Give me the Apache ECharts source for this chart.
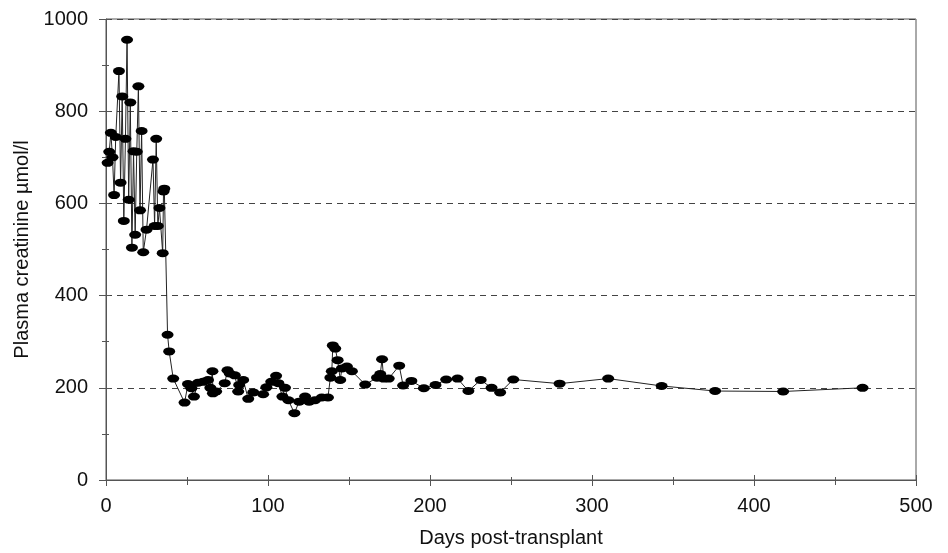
<!DOCTYPE html>
<html>
<head>
<meta charset="utf-8">
<script src="https://cdn.jsdelivr.net/npm/echarts@6/dist/echarts.min.js"></script>
<style>
	html, body { margin: 0; padding: 0; background: #fff; }
	#chart { width: 948px; height: 553px; }
</style>
</head>
<body>
<div id="chart"></div>
<script>
// days after transplant and plasma creatinine (µmol/l)
var days = [
	1, 2, 3, 4, 5, 6, 8, 9, 10, 11, 12, 13, 14, 15, 16, 17, 18, 19, 20, 21, 22, 23, 25,
	29, 30, 31, 32, 33, 35, 35.5, 36, 38, 39, 41.5,
	48.5, 50.6, 52.7, 54.3, 56.8, 59.9, 63, 64.4, 65.7, 66, 68, 73.3, 75, 76.4, 79.5,
	81.6, 82.2, 84.7, 87.8, 90.9, 97, 99, 102, 105, 106.4, 108.9, 110.5, 112.6, 116.3,
	119.2, 122.9, 125.4, 129, 133.2, 137, 138.5, 139.4, 140, 141.5, 143, 144.6, 145.6,
	148.7, 151.8, 160, 167.3, 169.3, 170.4, 171.4, 174.5, 181, 183.4, 188.5, 196.2,
	203.4, 210, 217, 223.7, 231.3, 238, 243.3, 251.4, 280, 310, 343, 376, 418, 467
];
var creatinine = [
	688, 712, 753, 700, 618, 744, 887, 645, 832, 562, 740, 955, 608, 819, 504, 713, 532, 712, 854, 585, 757, 494, 543,
	695, 551, 740, 551, 590, 492, 626, 632, 315, 279, 220,
	168, 208, 199, 181, 211, 213, 217, 200, 236, 188, 192, 210, 238, 231, 227,
	192, 206, 217, 176, 190, 186, 201, 213, 226, 210, 181, 200, 173, 145,
	170, 181, 170, 173, 179, 179, 222, 236, 292, 285, 260, 217, 242,
	246, 236, 207, 222, 230, 262, 220, 220, 248, 205, 215, 199,
	206, 218, 220, 193, 217, 200, 190, 218, 209, 220, 204, 193, 192, 200
];
var xTicks = [0, 100, 200, 300, 400, 500];
var yTicks = [0, 200, 400, 600, 800, 1000];

var points = days.map(function (d, i) { return [d, creatinine[i]]; });

var myChart = echarts.init(document.getElementById('chart'));
var axisColor = '#555';
var fontFamily = '"Liberation Sans", Arial, sans-serif';

var option = {
	animation: false,
	grid: {
		left: 106,
		right: 32,
		top: 19,
		bottom: 71,
		show: true,
		borderColor: axisColor,
		borderWidth: 1
	},
	xAxis: [
		{
			type: 'value',
			min: xTicks[0],
			max: xTicks[xTicks.length - 1],
			interval: 100,
			name: 'Days post-transplant',
			nameLocation: 'middle',
			nameGap: 48,
			nameTextStyle: { fontSize: 20, color: '#111', fontFamily: fontFamily },
			axisLine: { lineStyle: { color: axisColor, width: 1 } },
			axisTick: { show: true, length: 6, lineStyle: { color: axisColor } },
			minorTick: { show: true, splitNumber: 2, length: 5, lineStyle: { color: axisColor } },
			axisLabel: { margin: 16, fontSize: 20, color: '#111', fontFamily: fontFamily },
			splitLine: { show: false }
		},
		{
			type: 'value',
			position: 'bottom',
			min: xTicks[0],
			max: xTicks[xTicks.length - 1],
			interval: 100,
			axisLine: { show: false },
			axisTick: { show: true, inside: true, length: 5, lineStyle: { color: axisColor } },
			minorTick: { show: true, splitNumber: 2, length: 3, lineStyle: { color: axisColor } },
			axisLabel: { show: false },
			splitLine: { show: false }
		}
	],
	yAxis: [
		{
			type: 'value',
			min: yTicks[0],
			max: yTicks[yTicks.length - 1],
			interval: 200,
			name: 'Plasma creatinine µmol/l',
			nameLocation: 'middle',
			nameGap: 64,
			nameTextStyle: { fontSize: 20, color: '#111', fontFamily: fontFamily },
			axisLine: { show: true, lineStyle: { color: axisColor, width: 1 } },
			axisTick: { show: true, length: 7, lineStyle: { color: axisColor } },
			minorTick: { show: true, splitNumber: 2, length: 4, lineStyle: { color: axisColor } },
			axisLabel: {
				margin: 18,
				fontSize: 20,
				color: '#111',
				fontFamily: fontFamily,
				formatter: function (v) { return String(v); }
			},
			splitLine: {
				show: true,
				lineStyle: { color: '#444', type: [6, 5], width: 1 }
			}
		},
		{
			type: 'value',
			position: 'left',
			min: yTicks[0],
			max: yTicks[yTicks.length - 1],
			interval: 200,
			axisLine: { show: false },
			axisTick: { show: true, inside: true, length: 4, lineStyle: { color: axisColor } },
			minorTick: { show: true, splitNumber: 2, length: 3, lineStyle: { color: axisColor } },
			axisLabel: { show: false },
			splitLine: { show: false }
		}
	],
	series: [
		{
			type: 'line',
			data: points,
			symbol: 'circle',
			symbolSize: [12, 8],
			showSymbol: true,
			itemStyle: { color: '#000' },
			lineStyle: { color: '#222', width: 1 },
			z: 5
		}
	]
};

myChart.setOption(option);
</script>
</body>
</html>
